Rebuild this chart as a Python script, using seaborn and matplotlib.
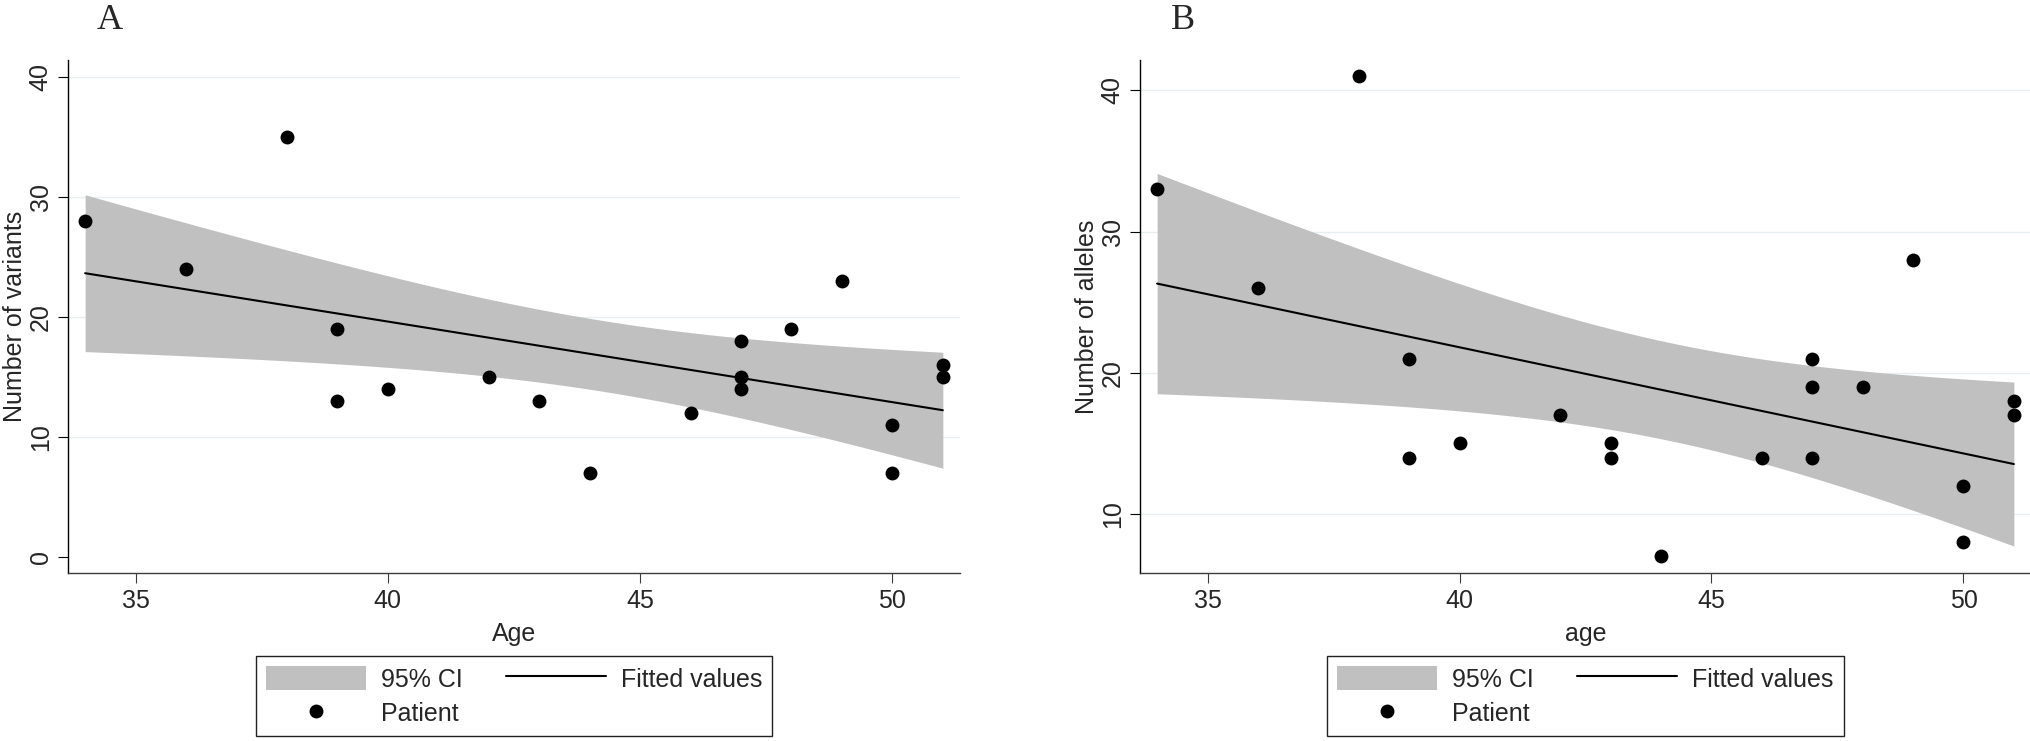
import numpy as np
import matplotlib
matplotlib.use("Agg")
import matplotlib.pyplot as plt
import seaborn as sns
from matplotlib.patches import Patch
from matplotlib.lines import Line2D

# Оформление
sns.set_style("white")
plt.rcParams['font.family'] = ['Liberation Sans', 'DejaVu Sans']

# Панель A: число вариантов по возрасту
age_a = [34, 36, 38, 39, 39, 40, 42, 43, 44, 46, 47, 47, 47, 48, 49, 50, 50, 51, 51]
variants_a = [28, 24, 35, 19, 13, 14, 15, 13, 7, 12, 18, 15, 14, 19, 23, 11, 7, 16, 15]

# Панель B: число аллелей по возрасту
age_b = [34, 36, 38, 39, 39, 40, 42, 43, 43, 44, 46, 47, 47, 47, 48, 49, 50, 50, 51, 51]
alleles_b = [33, 26, 41, 21, 14, 15, 17, 15, 14, 7, 14, 21, 19, 14, 19, 28, 12, 8, 18, 17]

x_ticks = [35, 40, 45, 50]
y_ticks_a = [0, 10, 20, 30, 40]
y_ticks_b = [10, 20, 30, 40]

# t(0.975, n-2) for the 95% CI of the mean prediction
T_CRIT = {17: 2.1098, 18: 2.1009}

BAND = '#c0c0c0'
GRID = '#e6eff0'
FS = 18


def fit_ci(x, y):
    x = np.asarray(x, float)
    y = np.asarray(y, float)
    n = len(x)
    b, a = np.polyfit(x, y, 1)
    grid = np.linspace(x.min(), x.max(), 100)
    pred = a + b * grid
    resid = y - (a + b * x)
    s = np.sqrt((resid ** 2).sum() / (n - 2))
    sxx = ((x - x.mean()) ** 2).sum()
    se = s * np.sqrt(1 / n + (grid - x.mean()) ** 2 / sxx)
    t = T_CRIT[n - 2]
    return grid, pred, pred - t * se, pred + t * se


def draw_panel(ax, x, y, yticks, ylim, xlabel, ylabel, hide_zero_grid=False):
    grid, pred, lo, hi = fit_ci(x, y)
    ax.fill_between(grid, lo, hi, color=BAND, linewidth=0, zorder=1)
    sns.lineplot(x=grid, y=pred, ax=ax, color='black', linewidth=1.5, zorder=2)
    sns.scatterplot(x=x, y=y, ax=ax, color='black', s=100, linewidth=0, zorder=3)

    ax.set_xlim(33.66, 51.34)
    ax.set_ylim(*ylim)
    ax.set_xticks(x_ticks)
    ax.set_yticks(yticks)
    ax.set_axisbelow(True)
    ax.yaxis.grid(True, color=GRID, linewidth=1.0)
    ax.xaxis.grid(False)
    if hide_zero_grid:
        ax.get_ygridlines()[0].set_visible(False)

    for side in ['top', 'right']:
        ax.spines[side].set_visible(False)
    ax.spines['left'].set_color('black')
    ax.spines['left'].set_linewidth(1.0)
    ax.spines['bottom'].set_color('#3c3c3c')
    ax.spines['bottom'].set_linewidth(1.0)

    ax.tick_params(axis='x', length=7, width=0.8, color='#3c3c3c', pad=5,
                   labelsize=FS, bottom=True)
    ax.tick_params(axis='y', length=7, width=0.8, color='black', pad=4,
                   labelsize=FS, left=True, labelrotation=90)
    for lab in ax.get_yticklabels():
        lab.set_va('center')

    ax.set_xlabel(xlabel, fontsize=FS, labelpad=6)
    ax.set_ylabel(ylabel, fontsize=FS, labelpad=1)

    handles = [
        Patch(facecolor=BAND, edgecolor='none', label='95% CI'),
        Line2D([], [], marker='o', linestyle='', color='black', markersize=10,
               markeredgewidth=0, label='Patient'),
        Line2D([], [], color='black', linewidth=1.5, label='Fitted values'),
    ]
    pos = ax.get_position()
    leg = ax.legend(handles=handles, loc='upper center', ncol=2,
                    bbox_to_anchor=(pos.x0 + pos.width / 2, 1 - 656 / 741),
                    bbox_transform=fig.transFigure,
                    fontsize=FS, frameon=True, fancybox=False, framealpha=1,
                    edgecolor='#222222', borderaxespad=0, borderpad=0.4,
                    handlelength=4.0, handleheight=1.12, handletextpad=0.6,
                    columnspacing=1.72, labelspacing=0.36)
    leg.get_frame().set_linewidth(1.0)


fig = plt.figure(figsize=(20.31, 7.41), dpi=100)
ax_a = fig.add_axes([68 / 2031, 1 - 572.7 / 741, 892 / 2031, 512.7 / 741])
ax_b = fig.add_axes([1140 / 2031, 1 - 572.7 / 741, 891 / 2031, 512.7 / 741])

draw_panel(ax_a, age_a, variants_a, y_ticks_a, (-1.33, 41.4), 'Age',
           'Number of variants', hide_zero_grid=True)
draw_panel(ax_b, age_b, alleles_b, y_ticks_b, (5.85, 42.14), 'age',
           'Number of alleles')

# Подписи панелей
fig.text(110 / 2031, 1 - 29 / 741, 'A', fontsize=26, ha='center', va='baseline',
         family=['Liberation Serif', 'DejaVu Serif'])
fig.text(1183 / 2031, 1 - 29 / 741, 'B', fontsize=26, ha='center', va='baseline',
         family=['Liberation Serif', 'DejaVu Serif'])

fig.savefig('out.png', dpi=100)
